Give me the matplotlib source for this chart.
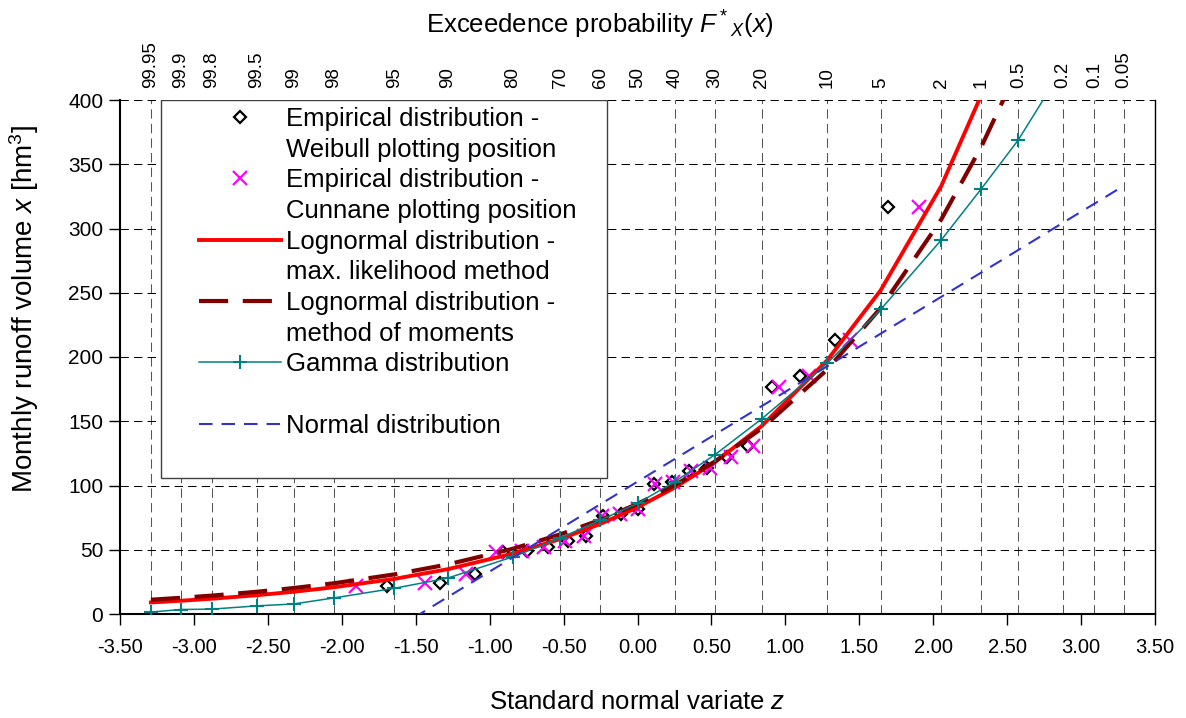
import matplotlib.pyplot as plt
from matplotlib.lines import Line2D
from matplotlib.patches import Rectangle

plt.rcParams['font.family'] = ['Liberation Sans', 'DejaVu Sans']
plt.rcParams['mathtext.fontset'] = 'custom'
plt.rcParams['mathtext.rm'] = 'Liberation Sans'
plt.rcParams['mathtext.it'] = 'Liberation Sans:italic'

# sorted monthly runoff sample [hm3]
runoff = [22, 24, 31, 48, 49, 52, 57, 61, 76, 78, 82, 101, 103, 111, 114, 122, 131, 177, 185, 213, 317]
# standard normal variate of each sample value
z_weibull = [-1.691, -1.335, -1.097, -0.908, -0.748, -0.605, -0.473, -0.349, -0.230, -0.114, 0.0,
             0.114, 0.230, 0.349, 0.473, 0.605, 0.748, 0.908, 1.097, 1.335, 1.691]
z_cunnane = [-1.907, -1.436, -1.162, -0.955, -0.782, -0.631, -0.492, -0.362, -0.239, -0.118, 0.0,
             0.118, 0.239, 0.362, 0.492, 0.631, 0.782, 0.955, 1.162, 1.436, 1.907]

# exceedance probabilities (top axis) and matching z
prob_labels = ['99.95', '99.9', '99.8', '99.5', '99', '98', '95', '90', '80', '70', '60', '50',
               '40', '30', '20', '10', '5', '2', '1', '0.5', '0.2', '0.1', '0.05']
z_prob = [-3.291, -3.090, -2.878, -2.576, -2.326, -2.054, -1.645, -1.282, -0.842, -0.524, -0.253, 0.0,
          0.253, 0.524, 0.842, 1.282, 1.645, 2.054, 2.326, 2.576, 2.878, 3.090, 3.291]

# fitted quantiles at z_prob (from the first point on)
lognorm_ml = [9.0, 10.3, 11.9, 14.6, 17.3, 20.8, 27.3, 34.9, 47.0, 58.3, 70.0, 83.0, 98.4, 118.2,
              146.5, 197.3, 252.0, 333.0, 404.0]
lognorm_mom = [11.1, 12.6, 14.3, 17.3, 20.2, 23.9, 30.8, 38.6, 50.8, 61.9, 73.2, 85.7, 100.3, 118.7,
               144.6, 190.1, 238.2, 307.0, 363.8, 425.0]
gamma = [1.5, 3.5, 3.8, 6.3, 7.8, 12.5, 20.0, 28.0, 44.5, 59.0, 73.0, 86.0, 103.0, 124.0,
         152.0, 195.0, 237.0, 291.0, 331.0, 369.0, 425.0]
# normal quantiles from z = -1.645 onwards
normal = [-12.2, 13.3, 44.1, 66.3, 85.3, 103.0, 120.7, 139.7, 161.9, 192.7, 218.2, 246.8,
          265.8, 283.3, 304.5, 319.3, 333.4]

fig = plt.figure(figsize=(11.86, 7.18), dpi=100)
ax = fig.add_axes([120 / 1186, 1 - 614 / 718, 1035 / 1186, 514 / 718])

ax.plot(z_weibull, runoff, ls='none', marker='D', ms=6, mfc='none', mec='black', mew=1.6, zorder=3)
ax.plot(z_cunnane, runoff, ls='none', marker='x', ms=9.5, mec='#FF00FF', mew=1.6, zorder=3)
ax.plot(z_prob[:len(lognorm_ml)], lognorm_ml, color='#FF0000', lw=2.8, zorder=4)
ax.plot(z_prob[:len(lognorm_mom)], lognorm_mom, color='#800000', lw=3.0,
        linestyle=(0, (7, 3.5)), zorder=4)
ax.plot(z_prob[:len(gamma)], gamma, color='#008080', lw=1.1, marker='+', ms=10, mew=1.5, zorder=4)
ax.plot(z_prob[6:6 + len(normal)], normal, color='#3333CC', lw=1.5, linestyle=(0, (6.5, 4.3)), zorder=4)

ax.set_xlim(-3.5, 3.5)
ax.set_ylim(0, 400)
ax.set_xticks([i * 0.5 - 3.5 for i in range(15)])
ax.set_xticklabels(['%.2f' % (i * 0.5 - 3.5) for i in range(15)])
ax.set_yticks(range(0, 401, 50))
ax.set_xticks(z_prob, minor=True)
ax.tick_params(axis='both', which='major', direction='out', length=8, width=1)
ax.tick_params(axis='x', which='major', labelsize=14.5, pad=9)
ax.tick_params(axis='y', which='major', labelsize=15, pad=4)
ax.tick_params(axis='x', which='minor', length=0)
ax.set_axisbelow(True)
ax.grid(True, axis='y', which='major', color='black', lw=0.75, linestyle=(0, (8, 5)))
ax.grid(True, axis='x', which='minor', color='#555555', lw=0.75, linestyle=(0, (9, 5)))
ax.spines['top'].set_visible(False)
ax.spines['left'].set_linewidth(1.5)
ax.spines['bottom'].set_linewidth(1.5)
ax.spines['right'].set_linewidth(1.0)

ax.set_xlabel('Standard normal variate $z$', fontsize=18.5, labelpad=24)
ax.set_ylabel('Monthly runoff volume $x$ [hm$^3$]', fontsize=20)
ax.yaxis.set_label_coords((41 - 120) / 1035, (614 - 309) / 514)

ax2 = ax.twiny()
ax2.set_xlim(-3.5, 3.5)
ax2.set_xticks(z_prob)
ax2.set_xticklabels(prob_labels, rotation=90, fontsize=13.5)
ax2.tick_params(axis='x', length=0, pad=9)
for s in ax2.spines.values():
    s.set_visible(False)
fig.text(0.506, 1 - 25 / 718, 'Exceedence probability $F^*{}_X(x)$', ha='center', va='center', fontsize=18.5)

# legend box
ax.add_patch(Rectangle((41 / 1035, (614 - 478) / 514), 446 / 1035, 378 / 514, transform=ax.transAxes,
                       facecolor='white', edgecolor='#404040', lw=1, zorder=2))
blank = Line2D([], [], ls='none')
handles = [
    Line2D([], [], ls='none', marker='D', ms=6, mfc='none', mec='black', mew=1.6), blank,
    Line2D([], [], ls='none', marker='x', ms=9.5, mec='#FF00FF', mew=1.6), blank,
    Line2D([], [], color='#FF0000', lw=2.8), blank,
    Line2D([], [], color='#800000', lw=3.0, linestyle=(0, (7, 3.5))), blank,
    Line2D([], [], color='#008080', lw=1.1, marker='+', ms=10, mew=1.5), blank,
    Line2D([], [], color='#3333CC', lw=1.5, linestyle=(0, (6.5, 4.3))), blank,
]
labels = ['Empirical distribution -', 'Weibull plotting position',
          'Empirical distribution -', 'Cunnane plotting position',
          'Lognormal distribution -', 'max. likelihood method',
          'Lognormal distribution -', 'method of moments',
          'Gamma distribution', ' ', 'Normal distribution', ' ']
leg = ax.legend(handles, labels, loc='upper left', bbox_to_anchor=((199 - 120) / 1035, (614 - 107) / 514),
                frameon=False, fontsize=18.5, borderpad=0, borderaxespad=0, handlelength=3.2,
                handletextpad=0.2, labelspacing=0.26)
leg.set_zorder(5)

plt.savefig('out.png', dpi=100)
